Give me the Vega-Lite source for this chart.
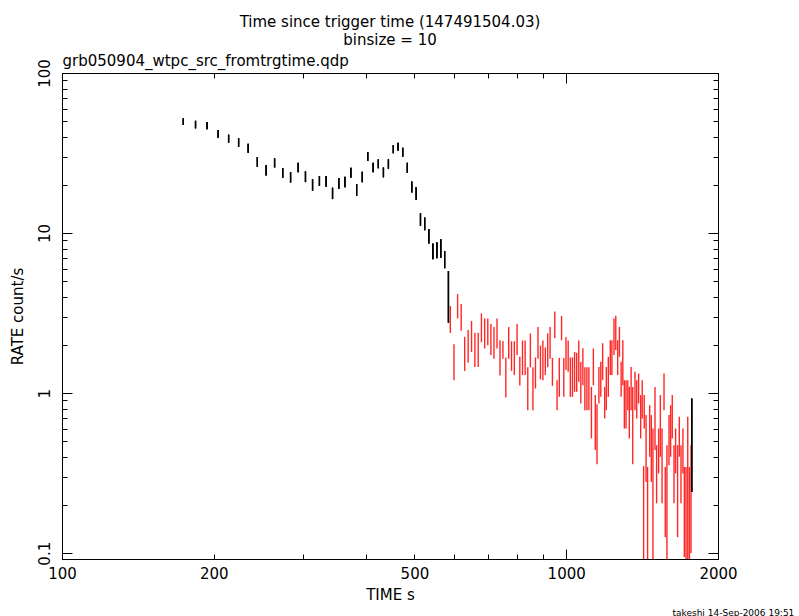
{
  "$schema": "https://vega.github.io/schema/vega-lite/v6.json",
  "width": 656,
  "height": 486,
  "autosize": "none",
  "padding": {"left": 62, "top": 73, "right": 81, "bottom": 57},
  "background": "white",
  "title": {
    "text": ["Time since trigger time (147491504.03)", "binsize = 10"],
    "anchor": "middle",
    "frame": "group",
    "font": "DejaVu Sans",
    "fontSize": 15,
    "fontWeight": "normal",
    "color": "black",
    "lineHeight": 18,
    "offset": 6
  },
  "config": {
    "view": {"stroke": "black", "strokeWidth": 1},
    "axis": {
      "grid": false,
      "domainColor": "black",
      "tickColor": "black",
      "labelColor": "black",
      "titleColor": "black",
      "labelFont": "DejaVu Sans",
      "titleFont": "DejaVu Sans",
      "labelFontSize": 15,
      "titleFontSize": 15,
      "titleFontWeight": "normal",
      "labelOverlap": false,
      "labelFlush": false,
      "labelBound": false
    }
  },
  "datasets": {
    "wt": [
      {"t": 174, "lo": 47.3, "hi": 52.1},
      {"t": 184, "lo": 45.1, "hi": 50.3},
      {"t": 194, "lo": 44.5, "hi": 49.4},
      {"t": 204, "lo": 39.4, "hi": 44.0},
      {"t": 214, "lo": 36.7, "hi": 41.2},
      {"t": 224, "lo": 34.6, "hi": 39.1},
      {"t": 234, "lo": 31.8, "hi": 36.1},
      {"t": 244, "lo": 26.0, "hi": 29.9},
      {"t": 254, "lo": 22.9, "hi": 26.5},
      {"t": 264, "lo": 25.7, "hi": 29.3},
      {"t": 274, "lo": 22.2, "hi": 25.5},
      {"t": 284, "lo": 20.7, "hi": 24.0},
      {"t": 294, "lo": 24.0, "hi": 27.5},
      {"t": 304, "lo": 20.8, "hi": 24.3},
      {"t": 314, "lo": 18.4, "hi": 21.7},
      {"t": 324, "lo": 19.7, "hi": 22.7},
      {"t": 334, "lo": 19.5, "hi": 22.7},
      {"t": 344, "lo": 16.3, "hi": 19.2},
      {"t": 354, "lo": 18.9, "hi": 22.1},
      {"t": 364, "lo": 19.3, "hi": 22.5},
      {"t": 374, "lo": 22.2, "hi": 25.6},
      {"t": 384, "lo": 17.1, "hi": 20.2},
      {"t": 394, "lo": 20.8, "hi": 24.2},
      {"t": 404, "lo": 28.2, "hi": 32.1},
      {"t": 414, "lo": 24.0, "hi": 27.5},
      {"t": 424, "lo": 25.4, "hi": 28.9},
      {"t": 434, "lo": 22.3, "hi": 25.7},
      {"t": 444, "lo": 25.2, "hi": 28.9},
      {"t": 454, "lo": 31.5, "hi": 35.5},
      {"t": 464, "lo": 32.7, "hi": 36.7},
      {"t": 474, "lo": 30.0, "hi": 34.1},
      {"t": 484, "lo": 23.8, "hi": 27.5},
      {"t": 494, "lo": 17.9, "hi": 21.0},
      {"t": 504, "lo": 16.1, "hi": 19.4},
      {"t": 514, "lo": 11.1, "hi": 13.3},
      {"t": 524, "lo": 10.4, "hi": 12.5},
      {"t": 534, "lo": 8.6, "hi": 10.6},
      {"t": 544, "lo": 6.85, "hi": 8.6},
      {"t": 554, "lo": 6.95, "hi": 8.75},
      {"t": 564, "lo": 7.01, "hi": 9.14},
      {"t": 574, "lo": 6.02, "hi": 7.72},
      {"t": 584, "lo": 2.75, "hi": 5.79},
      {"t": 1774, "lo": 0.2415, "hi": 0.927}
    ],
    "pc": [
      {"t": 589, "lo": 2.38, "hi": 3.5},
      {"t": 599, "lo": 1.205, "hi": 2.02},
      {"t": 609, "lo": 2.93, "hi": 4.16},
      {"t": 619, "lo": 2.45, "hi": 3.6},
      {"t": 629, "lo": 1.377, "hi": 2.25},
      {"t": 639, "lo": 1.546, "hi": 2.48},
      {"t": 649, "lo": 1.81, "hi": 2.82},
      {"t": 659, "lo": 1.459, "hi": 2.38},
      {"t": 669, "lo": 1.459, "hi": 2.38},
      {"t": 679, "lo": 2.08, "hi": 3.15},
      {"t": 689, "lo": 1.9, "hi": 2.93},
      {"t": 699, "lo": 1.99, "hi": 2.93},
      {"t": 709, "lo": 1.728, "hi": 2.7},
      {"t": 719, "lo": 1.637, "hi": 2.59},
      {"t": 729, "lo": 1.9, "hi": 2.93},
      {"t": 739, "lo": 1.29, "hi": 2.14},
      {"t": 749, "lo": 1.637, "hi": 2.12},
      {"t": 759, "lo": 0.94, "hi": 1.67},
      {"t": 769, "lo": 1.637, "hi": 2.585},
      {"t": 779, "lo": 1.377, "hi": 2.11},
      {"t": 789, "lo": 1.296, "hi": 2.11},
      {"t": 799, "lo": 1.728, "hi": 2.7},
      {"t": 809, "lo": 1.117, "hi": 1.686},
      {"t": 819, "lo": 1.296, "hi": 2.13},
      {"t": 829, "lo": 1.296, "hi": 2.13},
      {"t": 839, "lo": 0.783, "hi": 1.449},
      {"t": 849, "lo": 1.449, "hi": 2.36},
      {"t": 859, "lo": 0.783, "hi": 1.449},
      {"t": 869, "lo": 1.069, "hi": 1.67},
      {"t": 879, "lo": 1.637, "hi": 2.585},
      {"t": 889, "lo": 1.219, "hi": 1.98},
      {"t": 899, "lo": 1.205, "hi": 2.13},
      {"t": 909, "lo": 1.296, "hi": 1.93},
      {"t": 919, "lo": 1.449, "hi": 2.36},
      {"t": 929, "lo": 1.637, "hi": 2.585},
      {"t": 939, "lo": 1.11, "hi": 1.66},
      {"t": 949, "lo": 2.2, "hi": 3.24},
      {"t": 959, "lo": 0.783, "hi": 1.205},
      {"t": 969, "lo": 0.948, "hi": 1.66},
      {"t": 979, "lo": 2.14, "hi": 3.03},
      {"t": 989, "lo": 0.948, "hi": 1.66},
      {"t": 999, "lo": 1.393, "hi": 2.24},
      {"t": 1009, "lo": 1.359, "hi": 2.13},
      {"t": 1019, "lo": 0.948, "hi": 1.67},
      {"t": 1029, "lo": 0.948, "hi": 1.67},
      {"t": 1039, "lo": 1.019, "hi": 1.81},
      {"t": 1049, "lo": 1.019, "hi": 1.786},
      {"t": 1059, "lo": 1.177, "hi": 2.13},
      {"t": 1069, "lo": 0.863, "hi": 1.563},
      {"t": 1079, "lo": 1.122, "hi": 1.91},
      {"t": 1089, "lo": 0.783, "hi": 1.449},
      {"t": 1099, "lo": 0.783, "hi": 1.449},
      {"t": 1109, "lo": 0.783, "hi": 1.449},
      {"t": 1122, "lo": 0.521, "hi": 1.094},
      {"t": 1132, "lo": 1.122, "hi": 1.9},
      {"t": 1142, "lo": 0.441, "hi": 0.972},
      {"t": 1151, "lo": 0.36, "hi": 0.853},
      {"t": 1161, "lo": 0.863, "hi": 1.459},
      {"t": 1171, "lo": 0.948, "hi": 1.57},
      {"t": 1181, "lo": 1.205, "hi": 2.05},
      {"t": 1192, "lo": 0.695, "hi": 1.094},
      {"t": 1201, "lo": 0.783, "hi": 1.459},
      {"t": 1212, "lo": 0.948, "hi": 1.686},
      {"t": 1223, "lo": 1.296, "hi": 2.14},
      {"t": 1232, "lo": 1.296, "hi": 2.14},
      {"t": 1244, "lo": 1.728, "hi": 2.93},
      {"t": 1254, "lo": 1.86, "hi": 3.04},
      {"t": 1265, "lo": 1.296, "hi": 2.14},
      {"t": 1275, "lo": 1.686, "hi": 2.59},
      {"t": 1285, "lo": 0.948, "hi": 1.57},
      {"t": 1295, "lo": 1.122, "hi": 2.14},
      {"t": 1304, "lo": 0.601, "hi": 1.205},
      {"t": 1314, "lo": 0.601, "hi": 1.205},
      {"t": 1325, "lo": 0.783, "hi": 1.205},
      {"t": 1334, "lo": 0.521, "hi": 1.094},
      {"t": 1345, "lo": 0.783, "hi": 1.459},
      {"t": 1355, "lo": 0.36, "hi": 1.094},
      {"t": 1369, "lo": 0.783, "hi": 1.359},
      {"t": 1380, "lo": 0.695, "hi": 1.205},
      {"t": 1392, "lo": 0.863, "hi": 1.327},
      {"t": 1405, "lo": 0.521, "hi": 0.972},
      {"t": 1415, "lo": 0.695, "hi": 1.205},
      {"t": 1424, "lo": 0.01, "hi": 0.35},
      {"t": 1428, "lo": 0.601, "hi": 0.972},
      {"t": 1440, "lo": 0.279, "hi": 0.729},
      {"t": 1450, "lo": 0.01, "hi": 0.346},
      {"t": 1464, "lo": 0.4, "hi": 0.841},
      {"t": 1475, "lo": 0.279, "hi": 0.729},
      {"t": 1486, "lo": 0.01, "hi": 0.601},
      {"t": 1500, "lo": 0.441, "hi": 1.094},
      {"t": 1511, "lo": 0.205, "hi": 0.473},
      {"t": 1525, "lo": 0.315, "hi": 0.601},
      {"t": 1537, "lo": 0.4, "hi": 0.972},
      {"t": 1549, "lo": 0.205, "hi": 0.601},
      {"t": 1563, "lo": 0.783, "hi": 1.327},
      {"t": 1572, "lo": 0.126, "hi": 0.346},
      {"t": 1584, "lo": 0.01, "hi": 0.473},
      {"t": 1599, "lo": 0.355, "hi": 0.729},
      {"t": 1611, "lo": 0.4, "hi": 0.841},
      {"t": 1623, "lo": 0.521, "hi": 0.972},
      {"t": 1636, "lo": 0.205, "hi": 0.473},
      {"t": 1648, "lo": 0.315, "hi": 0.601},
      {"t": 1663, "lo": 0.126, "hi": 0.473},
      {"t": 1676, "lo": 0.4, "hi": 0.711},
      {"t": 1689, "lo": 0.205, "hi": 0.473},
      {"t": 1704, "lo": 0.315, "hi": 0.601},
      {"t": 1715, "lo": 0.0948, "hi": 0.346},
      {"t": 1728, "lo": 0.01, "hi": 0.346},
      {"t": 1742, "lo": 0.01, "hi": 0.711},
      {"t": 1755, "lo": 0.01, "hi": 0.346},
      {"t": 1768, "lo": 0.1, "hi": 0.473}
    ]
  },
  "resolve": {"axis": {"x": "independent", "y": "independent"}},
  "layer": [
    {
      "data": {"name": "pc"},
      "mark": {"type": "rule", "color": "#ff0000", "strokeWidth": 1.4, "opacity": 0.85, "clip": true},
      "encoding": {
        "x": {
          "field": "t", "type": "quantitative",
          "scale": {"type": "log", "domain": [100, 2000], "nice": false},
          "axis": {
            "orient": "bottom",
            "values": [100, 200, 300, 400, 500, 600, 700, 800, 900, 1000, 2000],
            "format": "d",
            "labelExpr": "(datum.value == 100 || datum.value == 200 || datum.value == 500 || datum.value == 1000 || datum.value == 2000) ? datum.label : ''",
            "tickSize": -5,
            "labelPadding": 12,
            "title": "TIME  s",
            "titlePadding": 6
          }
        },
        "y": {
          "field": "hi", "type": "quantitative",
          "scale": {"type": "log", "domain": [0.092, 100], "nice": false},
          "axis": {
            "orient": "left",
            "values": [0.1, 0.2, 0.3, 0.4, 0.5, 0.6, 0.7, 0.8, 0.9, 1, 2, 3, 4, 5, 6, 7, 8, 9, 10, 20, 30, 40, 50, 60, 70, 80, 90, 100],
            "labelExpr": "(datum.value == 0.1 || datum.value == 1 || datum.value == 10 || datum.value == 100) ? datum.label : ''",
            "labelAngle": -90,
            "labelAlign": "center",
            "labelBaseline": "bottom",
            "tickSize": -5,
            "labelPadding": 15,
            "title": "RATE  count/s",
            "titlePadding": 12
          }
        },
        "y2": {"field": "lo"}
      }
    },
    {
      "data": {"name": "wt"},
      "mark": {"type": "rule", "color": "black", "strokeWidth": 1.3, "clip": true},
      "encoding": {
        "x": {
          "field": "t", "type": "quantitative",
          "axis": {"orient": "bottom", "values": [100, 1000], "labels": false, "domain": false, "tickSize": -10, "title": null}
        },
        "y": {
          "field": "hi", "type": "quantitative",
          "axis": {"orient": "left", "values": [0.1, 1, 10, 100], "labels": false, "domain": false, "tickSize": -10, "title": null}
        },
        "y2": {"field": "lo"}
      }
    },
    {
      "data": {"name": "wt"},
      "mark": {"type": "rule", "color": "black", "strokeWidth": 1.3, "clip": true},
      "encoding": {
        "x": {
          "field": "t", "type": "quantitative",
          "axis": {
            "orient": "top",
            "values": [100, 200, 300, 400, 500, 600, 700, 800, 900, 1000, 2000],
            "labels": false, "tickSize": -5,
            "title": "grb050904_wtpc_src_fromtrgtime.qdp",
            "titleAnchor": "start", "titleAlign": "left", "titlePadding": 4
          }
        },
        "y": {
          "field": "hi", "type": "quantitative",
          "axis": {
            "orient": "right",
            "values": [0.1, 0.2, 0.3, 0.4, 0.5, 0.6, 0.7, 0.8, 0.9, 1, 2, 3, 4, 5, 6, 7, 8, 9, 10, 20, 30, 40, 50, 60, 70, 80, 90, 100],
            "labels": false, "tickSize": -5,
            "title": "takeshi 14-Sep-2006 19:51",
            "titleAngle": 0, "titleX": -46, "titleY": 539,
            "titleAlign": "left", "titleBaseline": "middle",
            "titleFontSize": 9
          }
        },
        "y2": {"field": "lo"}
      }
    },
    {
      "data": {"name": "wt"},
      "mark": {"type": "rule", "color": "black", "strokeWidth": 1.3, "clip": true},
      "encoding": {
        "x": {
          "field": "t", "type": "quantitative",
          "axis": {"orient": "top", "values": [100, 1000], "labels": false, "domain": false, "tickSize": -10, "title": null}
        },
        "y": {
          "field": "hi", "type": "quantitative",
          "axis": {"orient": "right", "values": [0.1, 1, 10, 100], "labels": false, "domain": false, "tickSize": -10, "title": null}
        },
        "y2": {"field": "lo"}
      }
    }
  ]
}
